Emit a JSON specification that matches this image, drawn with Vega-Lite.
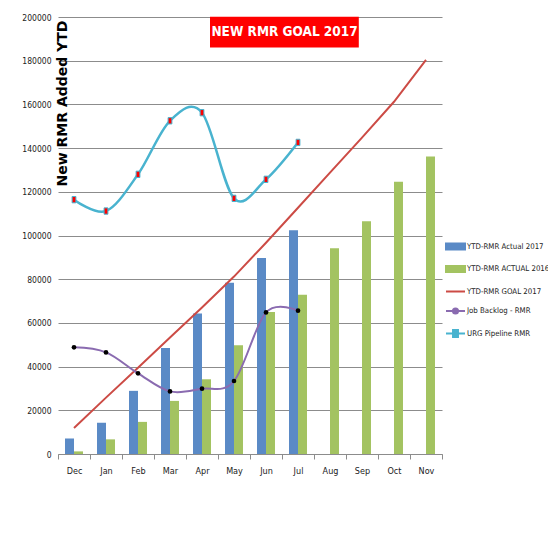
{
  "$schema": "https://vega.github.io/schema/vega-lite/v6.json",
  "width": 384,
  "height": 437,
  "autosize": {"type": "none"},
  "padding": {"left": 58, "top": 17, "right": 106, "bottom": 99},
  "background": "white",
  "config": {
    "view": {"stroke": null},
    "font": "DejaVu Sans Condensed, Liberation Sans, sans-serif",
    "legend": {"padding": 0}
  },
  "datasets": {
    "bars": [
      {"month": "Dec", "series": "YTD-RMR Actual 2017", "value": 7100},
      {"month": "Jan", "series": "YTD-RMR Actual 2017", "value": 14300},
      {"month": "Feb", "series": "YTD-RMR Actual 2017", "value": 28900},
      {"month": "Mar", "series": "YTD-RMR Actual 2017", "value": 48500},
      {"month": "Apr", "series": "YTD-RMR Actual 2017", "value": 64300},
      {"month": "May", "series": "YTD-RMR Actual 2017", "value": 78400},
      {"month": "Jun", "series": "YTD-RMR Actual 2017", "value": 89700},
      {"month": "Jul", "series": "YTD-RMR Actual 2017", "value": 102400},
      {"month": "Dec", "series": "YTD-RMR ACTUAL 2016", "value": 1200},
      {"month": "Jan", "series": "YTD-RMR ACTUAL 2016", "value": 6700},
      {"month": "Feb", "series": "YTD-RMR ACTUAL 2016", "value": 14700},
      {"month": "Mar", "series": "YTD-RMR ACTUAL 2016", "value": 24300},
      {"month": "Apr", "series": "YTD-RMR ACTUAL 2016", "value": 34200},
      {"month": "May", "series": "YTD-RMR ACTUAL 2016", "value": 49800},
      {"month": "Jun", "series": "YTD-RMR ACTUAL 2016", "value": 65000},
      {"month": "Jul", "series": "YTD-RMR ACTUAL 2016", "value": 72900},
      {"month": "Aug", "series": "YTD-RMR ACTUAL 2016", "value": 94200},
      {"month": "Sep", "series": "YTD-RMR ACTUAL 2016", "value": 106500},
      {"month": "Oct", "series": "YTD-RMR ACTUAL 2016", "value": 124600},
      {"month": "Nov", "series": "YTD-RMR ACTUAL 2016", "value": 136100}
    ],
    "goal": [
      {"month": "Dec", "series": "YTD-RMR GOAL 2017", "value": 11900},
      {"month": "Jan", "series": "YTD-RMR GOAL 2017", "value": 25800},
      {"month": "Feb", "series": "YTD-RMR GOAL 2017", "value": 39500},
      {"month": "Mar", "series": "YTD-RMR GOAL 2017", "value": 53300},
      {"month": "Apr", "series": "YTD-RMR GOAL 2017", "value": 67000},
      {"month": "May", "series": "YTD-RMR GOAL 2017", "value": 81200},
      {"month": "Jun", "series": "YTD-RMR GOAL 2017", "value": 96700},
      {"month": "Jul", "series": "YTD-RMR GOAL 2017", "value": 112700},
      {"month": "Aug", "series": "YTD-RMR GOAL 2017", "value": 128800},
      {"month": "Sep", "series": "YTD-RMR GOAL 2017", "value": 144800},
      {"month": "Oct", "series": "YTD-RMR GOAL 2017", "value": 161200},
      {"month": "Nov", "series": "YTD-RMR GOAL 2017", "value": 180400}
    ],
    "backlog": [
      {"month": "Dec", "series": "Job Backlog - RMR", "value": 48800},
      {"month": "Jan", "series": "Job Backlog - RMR", "value": 46500},
      {"month": "Feb", "series": "Job Backlog - RMR", "value": 36900},
      {"month": "Mar", "series": "Job Backlog - RMR", "value": 28650},
      {"month": "Apr", "series": "Job Backlog - RMR", "value": 29900},
      {"month": "May", "series": "Job Backlog - RMR", "value": 33400},
      {"month": "Jun", "series": "Job Backlog - RMR", "value": 64800},
      {"month": "Jul", "series": "Job Backlog - RMR", "value": 65600}
    ],
    "pipeline": [
      {"month": "Dec", "series": "URG Pipeline RMR", "value": 116400},
      {"month": "Jan", "series": "URG Pipeline RMR", "value": 111200},
      {"month": "Feb", "series": "URG Pipeline RMR", "value": 128000},
      {"month": "Mar", "series": "URG Pipeline RMR", "value": 152500},
      {"month": "Apr", "series": "URG Pipeline RMR", "value": 156200},
      {"month": "May", "series": "URG Pipeline RMR", "value": 117000},
      {"month": "Jun", "series": "URG Pipeline RMR", "value": 125700},
      {"month": "Jul", "series": "URG Pipeline RMR", "value": 142600}
    ],
    "title": [{"label": "NEW RMR GOAL 2017"}]
  },
  "layer": [
    {
      "data": {"name": "bars"},
      "mark": {"type": "bar"},
      "encoding": {
        "x": {
          "field": "month", "type": "nominal",
          "scale": {"domain": ["Dec","Jan","Feb","Mar","Apr","May","Jun","Jul","Aug","Sep","Oct","Nov"], "paddingInner": 0, "paddingOuter": 0},
          "axis": {
            "title": null, "labelAngle": 0, "domainColor": "#8c8c8c", "tickColor": "#8c8c8c",
            "tickBand": "extent", "tickSize": 5,
            "labelFontSize": 9, "labelColor": "#222222", "labelPadding": 7, "grid": false
          }
        },
        "xOffset": {
          "field": "series", "type": "nominal",
          "scale": {"domain": ["YTD-RMR Actual 2017", "YTD-RMR ACTUAL 2016"], "paddingInner": 0, "paddingOuter": 0.78}
        },
        "y": {
          "field": "value", "type": "quantitative",
          "scale": {"domain": [0, 200000], "nice": false, "zero": true},
          "axis": {
            "title": "New RMR Added YTD",
            "values": [0,20000,40000,60000,80000,100000,120000,140000,160000,180000,200000],
            "format": "d", "grid": true, "gridColor": "#8c8c8c", "gridWidth": 1,
            "domain": false, "ticks": false, "labelPadding": 7,
            "labelFontSize": 8.5, "labelColor": "#222222",
            "titleFont": "DejaVu Sans", "titleFontWeight": "bold", "titleFontSize": 14,
            "titleColor": "#000000", "titleAngle": 270, "titleX": 4, "titleY": 86,
            "titleAlign": "center", "titleBaseline": "middle"
          }
        },
        "color": {
          "field": "series", "type": "nominal",
          "scale": {
            "domain": ["YTD-RMR Actual 2017", "YTD-RMR ACTUAL 2016", "YTD-RMR GOAL 2017", "Job Backlog - RMR", "URG Pipeline RMR"],
            "range": ["#5a8ac6", "#a3c361", "#cc4b45", "#8a6bb0", "#49b3cf"]
          },
          "legend": {
            "orient": "none", "legendX": 387, "legendY": 219, "title": null,
            "symbolSize": 361, "rowPadding": 4.5, "labelFontSize": 7.8,
            "labelColor": "#222222", "labelOffset": 1,
            "labelLimit": 300,
            "encode": {
              "symbols": {
                "update": {
                  "shape": [
                    {"test": "datum.value === 'YTD-RMR GOAL 2017'", "value": "M-1,0H1"},
                    {"test": "datum.value === 'Job Backlog - RMR'", "value": "M-1,0H1M-0.27,0A0.27,0.27 0 1,0 0.27,0A0.27,0.27 0 1,0 -0.27,0"},
                    {"test": "datum.value === 'URG Pipeline RMR'", "value": "M-1,0H-0.26M0.26,0H1M-0.26,-0.36H0.26V0.36H-0.26Z"},
                    {"value": "M-1,-0.32H1V0.32H-1Z"}
                  ],
                  "fill": [
                    {"test": "datum.value === 'YTD-RMR Actual 2017'", "value": "#5a8ac6"},
                    {"test": "datum.value === 'YTD-RMR ACTUAL 2016'", "value": "#a3c361"},
                    {"test": "datum.value === 'Job Backlog - RMR'", "value": "#000000"},
                    {"test": "datum.value === 'URG Pipeline RMR'", "value": "#ff0000"},
                    {"value": "transparent"}
                  ],
                  "stroke": [
                    {"test": "datum.value === 'YTD-RMR GOAL 2017'", "value": "#cc4b45"},
                    {"test": "datum.value === 'Job Backlog - RMR'", "value": "#8a6bb0"},
                    {"test": "datum.value === 'URG Pipeline RMR'", "value": "#49b3cf"},
                    {"value": "transparent"}
                  ],
                  "strokeWidth": {"value": 2},
                  "opacity": {"value": 1},
                  "fillOpacity": {"value": 1},
                  "strokeOpacity": {"value": 1}
                }
              }
            }
          }
        }
      }
    },
    {
      "data": {"name": "goal"},
      "mark": {"type": "line", "strokeWidth": 2},
      "encoding": {
        "x": {"field": "month", "type": "nominal"},
        "y": {"field": "value", "type": "quantitative"},
        "color": {"field": "series", "type": "nominal"}
      }
    },
    {
      "data": {"name": "backlog"},
      "mark": {"type": "line", "strokeWidth": 2, "interpolate": "cardinal"},
      "encoding": {
        "x": {"field": "month", "type": "nominal"},
        "y": {"field": "value", "type": "quantitative"},
        "color": {"field": "series", "type": "nominal"}
      }
    },
    {
      "data": {"name": "pipeline"},
      "mark": {"type": "line", "strokeWidth": 2.5, "interpolate": "cardinal"},
      "encoding": {
        "x": {"field": "month", "type": "nominal"},
        "y": {"field": "value", "type": "quantitative"},
        "color": {"field": "series", "type": "nominal"}
      }
    },
    {
      "data": {"name": "backlog"},
      "mark": {"type": "point", "shape": "circle", "filled": true, "fill": "#000000", "size": 22, "opacity": 1},
      "encoding": {
        "x": {"field": "month", "type": "nominal"},
        "y": {"field": "value", "type": "quantitative"}
      }
    },
    {
      "data": {"name": "pipeline"},
      "mark": {"type": "point", "shape": "M-0.6,-1H0.6V1H-0.6Z", "filled": true, "fill": "#ff0000", "stroke": "#49b3cf", "strokeWidth": 1, "size": 40, "opacity": 1},
      "encoding": {
        "x": {"field": "month", "type": "nominal"},
        "y": {"field": "value", "type": "quantitative"}
      }
    },
    {
      "data": {"name": "title"},
      "mark": {"type": "rect", "color": "#ff0000", "opacity": 1},
      "encoding": {
        "x": {"datum": "Apr", "bandPosition": 0.75},
        "x2": {"datum": "Sep", "bandPosition": 0.4},
        "y": {"datum": 200100, "type": "quantitative"},
        "y2": {"datum": 186000}
      }
    },
    {
      "data": {"name": "title"},
      "mark": {"type": "text", "color": "#ffffff", "fontWeight": "bold", "fontSize": 13.5, "align": "center", "baseline": "middle"},
      "encoding": {
        "x": {"datum": "Jul", "bandPosition": 0.08},
        "y": {"datum": 193000, "type": "quantitative"},
        "text": {"field": "label"}
      }
    }
  ]
}
